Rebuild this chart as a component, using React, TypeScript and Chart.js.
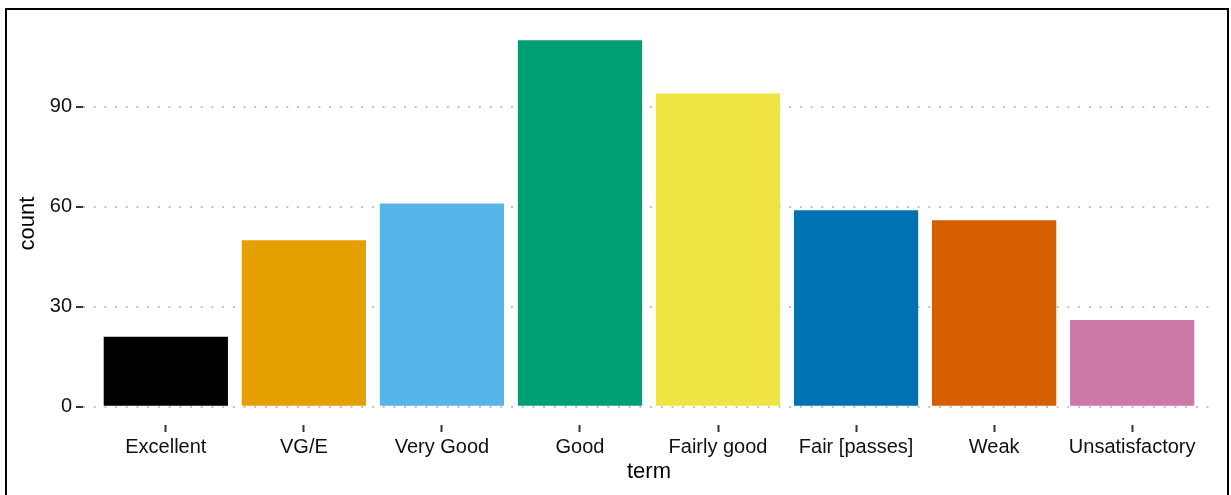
import React, { useEffect, useRef } from "react";
import { Chart, registerables } from "chart.js";

Chart.register(...registerables);

const categories = [
  "Excellent",
  "VG/E",
  "Very Good",
  "Good",
  "Fairly good",
  "Fair [passes]",
  "Weak",
  "Unsatisfactory",
];
const counts = [21, 50, 61, 110, 94, 59, 56, 26];
const barColors = [
  "#000000",
  "#E69F00",
  "#56B4E9",
  "#009E73",
  "#F0E442",
  "#0072B2",
  "#D55E00",
  "#CC79A7",
];
const yTicks = [0, 30, 60, 90];

const FONT = "'Liberation Sans', Arial, Helvetica, sans-serif";

const framePlugin = {
  id: "frame",
  afterDraw(chart: any) {
    const ctx = chart.ctx;
    ctx.save();
    ctx.strokeStyle = "#000";
    ctx.lineWidth = 2;
    ctx.strokeRect(6, 9, 1222, 600);
    ctx.restore();
  },
};

export default function App() {
  const ref = useRef<HTMLCanvasElement | null>(null);

  useEffect(() => {
    if (!ref.current) return;
    const chart = new Chart(ref.current, {
      type: "bar",
      data: {
        datasets: [
          {
            data: counts.map((v, i) => ({ x: i, y: v })),
            backgroundColor: barColors,
            borderWidth: 0,
            barPercentage: 0.9,
            categoryPercentage: 1.0,
          },
        ],
      },
      plugins: [framePlugin],
      options: {
        animation: false,
        responsive: false,
        devicePixelRatio: 1,
        layout: { padding: { left: 0, top: 22, right: 16, bottom: 0 } },
        plugins: {
          legend: { display: false },
          tooltip: { enabled: false },
        },
        scales: {
          x: {
            type: "linear",
            min: -0.6,
            max: 7.6,
            offset: false,
            afterBuildTicks: (s: any) => {
              s.ticks = categories.map((_, i) => ({ value: i }));
            },
            afterFit: (s: any) => {
              s.height = 70;
            },
            grid: {
              offset: false,
              drawOnChartArea: false,
              drawTicks: true,
              tickLength: 7,
              tickWidth: 2,
              tickColor: "#333333",
            },
            border: { display: false },
            ticks: {
              autoSkip: false,
              maxRotation: 0,
              padding: 3,
              color: "#111111",
              font: { family: FONT, size: 20 },
              callback: (v: any) => categories[v] ?? "",
            },
            title: {
              display: true,
              text: "term",
              color: "#000",
              font: { family: FONT, size: 22 },
              padding: { top: 0, bottom: 10 },
            },
          },
          y: {
            type: "linear",
            min: -5.5,
            max: 115.5,
            afterBuildTicks: (s: any) => {
              s.ticks = yTicks.map((v) => ({ value: v }));
            },
            afterFit: (s: any) => {
              s.width = 83;
            },
            grid: {
              drawTicks: true,
              tickLength: 7,
              tickWidth: 2,
              tickColor: "#333333",
              color: "#c4c4c4",
              lineWidth: 2,
              borderDash: [2, 8.7],
            } as any,
            border: { display: false, dash: [2, 8.7] },
            ticks: {
              padding: 4,
              color: "#111111",
              font: { family: FONT, size: 20 },
            },
            title: {
              display: true,
              text: "count",
              color: "#000",
              font: { family: FONT, size: 22 },
              padding: { top: 15, bottom: 0 },
            },
          },
        },
      } as any,
    });
    return () => chart.destroy();
  }, []);

  return (
    <div style={{ position: "absolute", left: 0, top: 0, width: 1231, height: 495, background: "#fff" }}>
      <canvas ref={ref} width={1231} height={495} />
    </div>
  );
}
